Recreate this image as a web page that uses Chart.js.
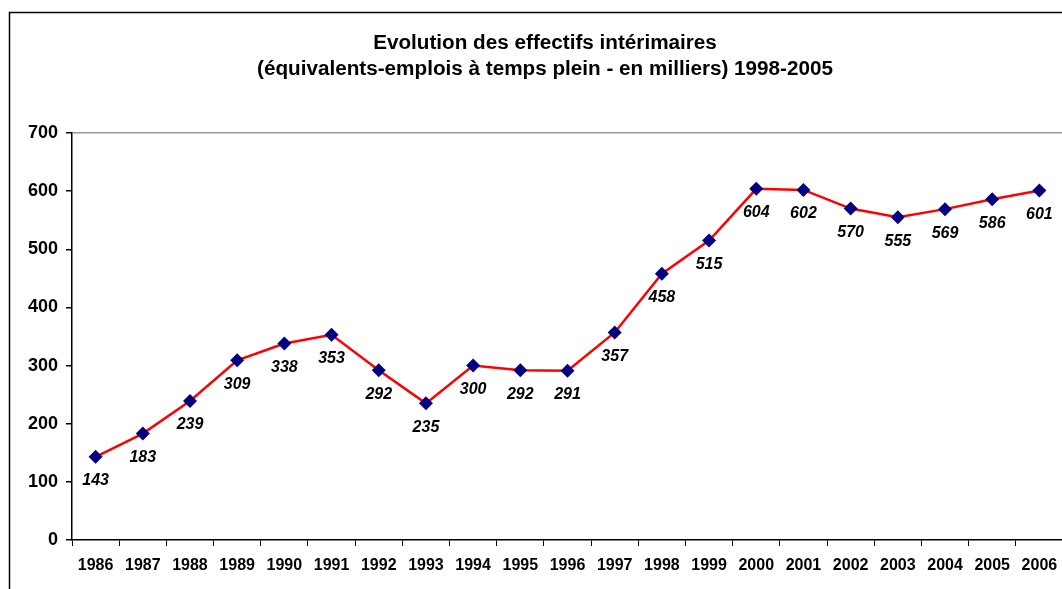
<!DOCTYPE html>
<html>
<head>
<meta charset="utf-8">
<script src="https://cdn.jsdelivr.net/npm/chart.js@4/dist/chart.umd.min.js"></script>
<style>
html,body{margin:0;padding:0;overflow:hidden;background:#fff;}
#wrap{position:absolute;left:0;top:0;width:1090px;height:600px;}
</style>
</head>
<body>
<div id="wrap"><canvas id="c" width="1090" height="600"></canvas></div>
<script>
const years = ['1986','1987','1988','1989','1990','1991','1992','1993','1994','1995','1996','1997','1998','1999','2000','2001','2002','2003','2004','2005','2006'];
const effectifs = [143,183,239,309,338,353,292,235,300,292,291,357,458,515,604,602,570,555,569,586,601];
const yTicks = [0,100,200,300,400,500,600,700];
const titleLines = ['Evolution des effectifs intérimaires','(équivalents-emplois à temps plein - en milliers) 1998-2005'];

const FONT = '"Liberation Sans", Arial, sans-serif';

const framePlugin = {
  id: 'frame',
  beforeDraw(chart) {
    const ctx = chart.ctx;
    ctx.save();
    ctx.strokeStyle = '#000';
    ctx.lineWidth = 1.5;
    ctx.strokeRect(9.5, 12.5, 1200, 800);
    ctx.restore();
  }
};

const labelPlugin = {
  id: 'valueLabels',
  afterDatasetsDraw(chart) {
    const ctx = chart.ctx;
    const meta = chart.getDatasetMeta(0);
    ctx.save();
    ctx.font = 'italic bold 16px ' + FONT;
    ctx.fillStyle = '#000';
    ctx.textAlign = 'center';
    ctx.textBaseline = 'middle';
    meta.data.forEach((pt, i) => {
      ctx.fillText(String(effectifs[i]), pt.x, pt.y + 24);
    });
    ctx.restore();
  }
};

new Chart(document.getElementById('c'), {
  type: 'line',
  data: {
    labels: years,
    datasets: [{
      data: effectifs,
      borderColor: '#FF0000',
      borderWidth: 2.5,
      pointStyle: 'rectRot',
      pointRadius: 7,
      pointHoverRadius: 7,
      pointBackgroundColor: '#000080',
      pointBorderColor: '#000080',
      pointBorderWidth: 0,
      tension: 0
    }]
  },
  options: {
    responsive: false,
    animation: false,
    events: [],
    layout: { padding: { left: 27, right: 27, top: 0, bottom: 0 } },
    plugins: {
      legend: { display: false },
      tooltip: { enabled: false },
      title: {
        display: true,
        text: titleLines,
        color: '#000',
        font: { family: FONT, size: 20.7, weight: 'bold', lineHeight: 1.26 },
        padding: { top: 30.5, bottom: 50.3 }
      }
    },
    scales: {
      x: {
        type: 'category',
        offset: true,
        grid: {
          offset: true,
          drawOnChartArea: false,
          drawTicks: true,
          tickLength: 6,
          tickColor: '#000',
          color: '#000'
        },
        border: { display: true, color: '#000', width: 1.5 },
        ticks: {
          color: '#000',
          font: { family: FONT, size: 16, weight: 'bold' },
          padding: 10,
          maxRotation: 0,
          autoSkip: false
        },
        afterFit(s) { s.height = 60; }
      },
      y: {
        min: 0,
        max: 700,
        afterBuildTicks(s) { s.ticks = yTicks.map(v => ({ value: v })); },
        grid: {
          drawOnChartArea: true,
          drawTicks: true,
          tickLength: 6,
          tickColor: '#000',
          color: (c) => (c.tick && c.tick.value === 700) ? '#9a9a9a' : 'rgba(0,0,0,0)',
          lineWidth: 1.5
        },
        border: { display: true, color: '#000', width: 1.5 },
        ticks: {
          color: '#000',
          font: { family: FONT, size: 18, weight: 'bold' },
          padding: 8
        },
        afterFit(s) { s.width = 45; }
      }
    }
  },
  plugins: [framePlugin, labelPlugin]
});
</script>
</body>
</html>
